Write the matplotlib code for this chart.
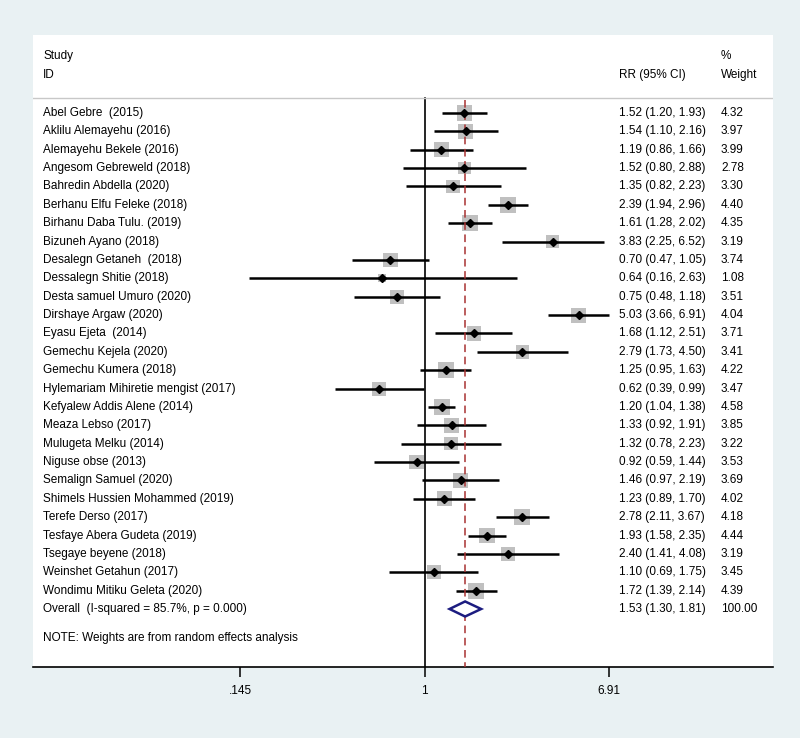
import numpy as np
import matplotlib
matplotlib.use('Agg')
import matplotlib.pyplot as plt
from matplotlib.patches import Polygon
from matplotlib.transforms import blended_transform_factory

plt.rcParams['font.family'] = ['Liberation Sans', 'DejaVu Sans']

studies = ['Abel Gebre  (2015)', 'Aklilu Alemayehu (2016)', 'Alemayehu Bekele (2016)',
           'Angesom Gebreweld (2018)', 'Bahredin Abdella (2020)', 'Berhanu Elfu Feleke (2018)',
           'Birhanu Daba Tulu. (2019)', 'Bizuneh Ayano (2018)', 'Desalegn Getaneh  (2018)',
           'Dessalegn Shitie (2018)', 'Desta samuel Umuro (2020)', 'Dirshaye Argaw (2020)',
           'Eyasu Ejeta  (2014)', 'Gemechu Kejela (2020)', 'Gemechu Kumera (2018)',
           'Hylemariam Mihiretie mengist (2017)', 'Kefyalew Addis Alene (2014)',
           'Meaza Lebso (2017)', 'Mulugeta Melku (2014)', 'Niguse obse (2013)',
           'Semalign Samuel (2020)', 'Shimels Hussien Mohammed (2019)', 'Terefe Derso (2017)',
           'Tesfaye Abera Gudeta (2019)', 'Tsegaye beyene (2018)', 'Weinshet Getahun (2017)',
           'Wondimu Mitiku Geleta (2020)']
rr = [1.52, 1.54, 1.19, 1.52, 1.35, 2.39, 1.61, 3.83, 0.70, 0.64, 0.75, 5.03, 1.68, 2.79,
      1.25, 0.62, 1.20, 1.33, 1.32, 0.92, 1.46, 1.23, 2.78, 1.93, 2.40, 1.10, 1.72]
lo = [1.20, 1.10, 0.86, 0.80, 0.82, 1.94, 1.28, 2.25, 0.47, 0.16, 0.48, 3.66, 1.12, 1.73,
      0.95, 0.39, 1.04, 0.92, 0.78, 0.59, 0.97, 0.89, 2.11, 1.58, 1.41, 0.69, 1.39]
hi = [1.93, 2.16, 1.66, 2.88, 2.23, 2.96, 2.02, 6.52, 1.05, 2.63, 1.18, 6.91, 2.51, 4.50,
      1.63, 0.99, 1.38, 1.91, 2.23, 1.44, 2.19, 1.70, 3.67, 2.35, 4.08, 1.75, 2.14]
weight = [4.32, 3.97, 3.99, 2.78, 3.30, 4.40, 4.35, 3.19, 3.74, 1.08, 3.51, 4.04, 3.71, 3.41,
          4.22, 3.47, 4.58, 3.85, 3.22, 3.53, 3.69, 4.02, 4.18, 4.44, 3.19, 3.45, 4.39]
overall = (1.53, 1.30, 1.81)
overall_label = 'Overall  (I-squared = 85.7%, p = 0.000)'
xticks = [0.145, 1, 6.91]
xticklabels = ['.145', '1', '6.91']

bg = '#e9f1f3'
fs = 8.5

fig = plt.figure(figsize=(8, 7.38), dpi=100, facecolor=bg)
ax = fig.add_axes([33/800, 1 - 667/738, 740/800, 632/738])
ax.set_facecolor('white')
ax.set_xscale('log')
ax.set_xlim(np.exp((33 - 424.5) / 95.5), np.exp((773 - 424.5) / 95.5))
step = 18.37
ax.set_ylim((667 - 113) / step, -(113 - 35) / step)

rows = np.arange(len(studies))
n = len(studies)
bottom = (667 - 113) / step

# reference lines
ax.plot([1, 1], [-0.82, bottom], color='black', lw=1.2, zorder=1)
ax.plot([overall[0]] * 2, [-0.7, bottom], color='#a83232', lw=1.1,
        ls=(0, (5, 3)), zorder=4)
ax.plot(ax.get_xlim(), [-0.82, -0.82], color='#c8c8c8', lw=1.0, zorder=1)

# study boxes, CIs and points
ax.scatter(rr, rows, s=np.array(weight) * 29.4, marker='s', color='#c0c0c0',
           linewidths=0, zorder=2)
ax.hlines(rows, lo, hi, color='black', lw=1.8, zorder=3)
ax.plot(rr, rows, 'D', color='black', markersize=4.5, zorder=5)

# overall diamond
h = 0.41
ax.add_patch(Polygon([(overall[1], n), (overall[0], n - h), (overall[2], n), (overall[0], n + h)],
                     closed=True, facecolor='white', edgecolor='#1c1c80', lw=1.8, zorder=5))

tr = blended_transform_factory(ax.transAxes, ax.transData)
xl, xc, xw = 10/740, (619 - 33)/740, (721 - 33)/740
ax.text(xl, -3.1, 'Study', transform=tr, fontsize=fs, va='center')
ax.text(xl, -2.07, 'ID', transform=tr, fontsize=fs, va='center')
ax.text(xc, -2.07, 'RR (95% CI)', transform=tr, fontsize=fs, va='center')
ax.text(xw, -3.1, '%', transform=tr, fontsize=fs, va='center')
ax.text(xw, -2.07, 'Weight', transform=tr, fontsize=fs, va='center')

for i in range(n):
    ax.text(xl, i, studies[i], transform=tr, fontsize=fs, va='center')
    ax.text(xc, i, '%.2f (%.2f, %.2f)' % (rr[i], lo[i], hi[i]), transform=tr, fontsize=fs, va='center')
    ax.text(xw, i, '%.2f' % weight[i], transform=tr, fontsize=fs, va='center')

ax.text(xl, n, overall_label, transform=tr, fontsize=fs, va='center')
ax.text(xc, n, '%.2f (%.2f, %.2f)' % overall, transform=tr, fontsize=fs, va='center')
ax.text(xw, n, '100.00', transform=tr, fontsize=fs, va='center')
ax.text(xl, n + 1.6, 'NOTE: Weights are from random effects analysis', transform=tr,
        fontsize=fs, va='center')

for s in ['top', 'left', 'right']:
    ax.spines[s].set_visible(False)
ax.spines['bottom'].set_linewidth(1.2)
ax.set_yticks([])
ax.set_xticks(xticks)
ax.set_xticklabels(xticklabels, fontsize=fs)
ax.minorticks_off()
ax.tick_params(axis='x', length=7, width=1.1, pad=6)

fig.savefig('out.png', dpi=100, facecolor=bg)
